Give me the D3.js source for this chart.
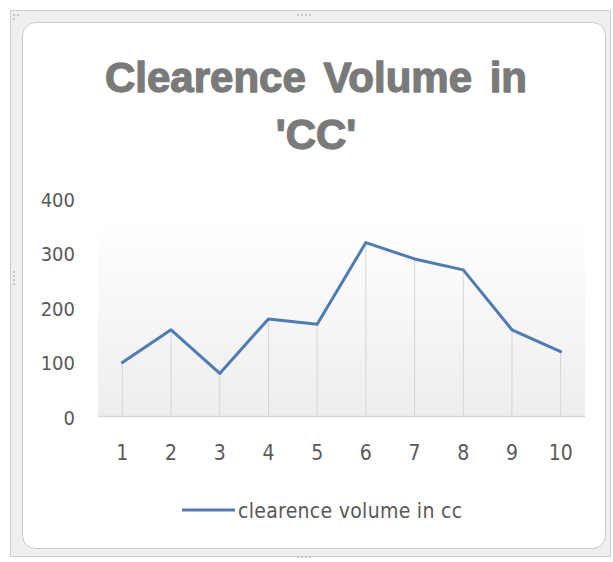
<!DOCTYPE html>
<html>
<head>
<meta charset="utf-8">
<script src="https://cdn.jsdelivr.net/npm/d3@7"></script>
<style>
  html, body { margin: 0; padding: 0; background: #ffffff; }
  svg { display: block; }
</style>
</head>
<body>
<svg id="chart" width="613" height="562"></svg>
<script>
// ---- data ----
const categories = [1, 2, 3, 4, 5, 6, 7, 8, 9, 10];
const values = [100, 160, 80, 180, 170, 320, 290, 270, 160, 120];
const yTicks = [0, 100, 200, 300, 400];
const titleLines = ["Clearence Volume in", "'CC'"];
const seriesName = "clearence volume in cc";

const svg = d3.select("#chart");

// frame
svg.append("rect").attr("x", 10.5).attr("y", 10.5).attr("width", 600).attr("height", 546)
  .attr("fill", "#efefef").attr("stroke", "#cfcfcf");
svg.append("rect").attr("x", 22.5).attr("y", 22.5).attr("width", 583).attr("height", 526)
  .attr("rx", 13).attr("fill", "#ffffff").attr("stroke", "#c9c9c9");
// handles
[[298,15],[302,15],[306,15],[310,15],[298,557],[302,557],[306,557],[310,557],
 [14,272],[14,276],[14,280],[14,284],[14,15],[18,15],[14,19]].forEach(p => {
  svg.append("circle").attr("cx", p[0]).attr("cy", p[1]).attr("r", 1.1).attr("fill", "#bdbdbd");
});

// title
const title = svg.append("text").attr("text-anchor", "middle")
  .attr("font-family", "'Liberation Sans', Arial, sans-serif")
  .attr("font-weight", "bold").attr("font-size", 42).attr("fill", "#7a7a7a")
  .attr("stroke", "#7a7a7a").attr("stroke-width", 1.3).attr("stroke-linejoin", "round")
  .attr("word-spacing", 6);
titleLines.forEach((t, i) => {
  title.append("tspan").attr("x", 316).attr("y", 92 + i * 57).text(t);
});

// scales
const x = d3.scaleBand().domain(categories).range([98, 585]).padding(0);
const y = d3.scaleLinear().domain([0, 400]).range([417, 199]);
const cx = d => x(d) + x.bandwidth() / 2;

// plot area gradient
const defs = svg.append("defs");
const grad = defs.append("linearGradient").attr("id", "pa").attr("x1", 0).attr("y1", 0).attr("x2", 0).attr("y2", 1);
grad.append("stop").attr("offset", "0%").attr("stop-color", "#ffffff");
grad.append("stop").attr("offset", "100%").attr("stop-color", "#ededed");
svg.append("rect").attr("x", 98).attr("y", 220).attr("width", 487).attr("height", y(0) - 220)
  .attr("fill", "url(#pa)");

// drop lines
svg.append("g").selectAll("line").data(categories).join("line")
  .attr("x1", d => cx(d)).attr("x2", d => cx(d))
  .attr("y1", (d, i) => y(values[i])).attr("y2", y(0))
  .attr("stroke", "#d4d4d4").attr("stroke-width", 1);

// x axis line
svg.append("line").attr("x1", 98).attr("x2", 585).attr("y1", y(0) - 0.5).attr("y2", y(0) - 0.5)
  .attr("stroke", "#d6d6d6").attr("stroke-width", 1.5);

const axisFont = "'Liberation Sans Narrow', 'DejaVu Sans Condensed', sans-serif";

// y axis
const yAxis = d3.axisLeft(y).tickValues(yTicks).tickSize(0).tickPadding(0);
const yg = svg.append("g").attr("transform", "translate(75,0)").call(yAxis);
yg.select(".domain").remove();
yg.selectAll("text").attr("font-family", axisFont).attr("font-size", 20).attr("fill", "#595959")
  .attr("dy", "0.36em");

// x axis
const xAxis = d3.axisBottom(x).tickSize(0).tickPadding(0);
const xg = svg.append("g").attr("transform", "translate(0,445)").call(xAxis);
xg.select(".domain").remove();
xg.selectAll("text").attr("font-family", axisFont).attr("font-size", 21).attr("fill", "#595959")
  .attr("dy", "0.72em");

// line
const line = d3.line().x((d, i) => cx(categories[i])).y(d => y(d));
svg.append("path").datum(values).attr("d", line)
  .attr("fill", "none").attr("stroke", "#4f7bb3").attr("stroke-width", 3)
  .attr("stroke-linejoin", "round").attr("stroke-linecap", "round");

// legend
svg.append("line").attr("x1", 182).attr("x2", 235).attr("y1", 510).attr("y2", 510)
  .attr("stroke", "#4f7bb3").attr("stroke-width", 3);
svg.append("text").attr("x", 238).attr("y", 518)
  .attr("font-family", axisFont).attr("font-size", 21).attr("fill", "#595959")
  .attr("letter-spacing", 0.3)
  .text(seriesName);
</script>
</body>
</html>
